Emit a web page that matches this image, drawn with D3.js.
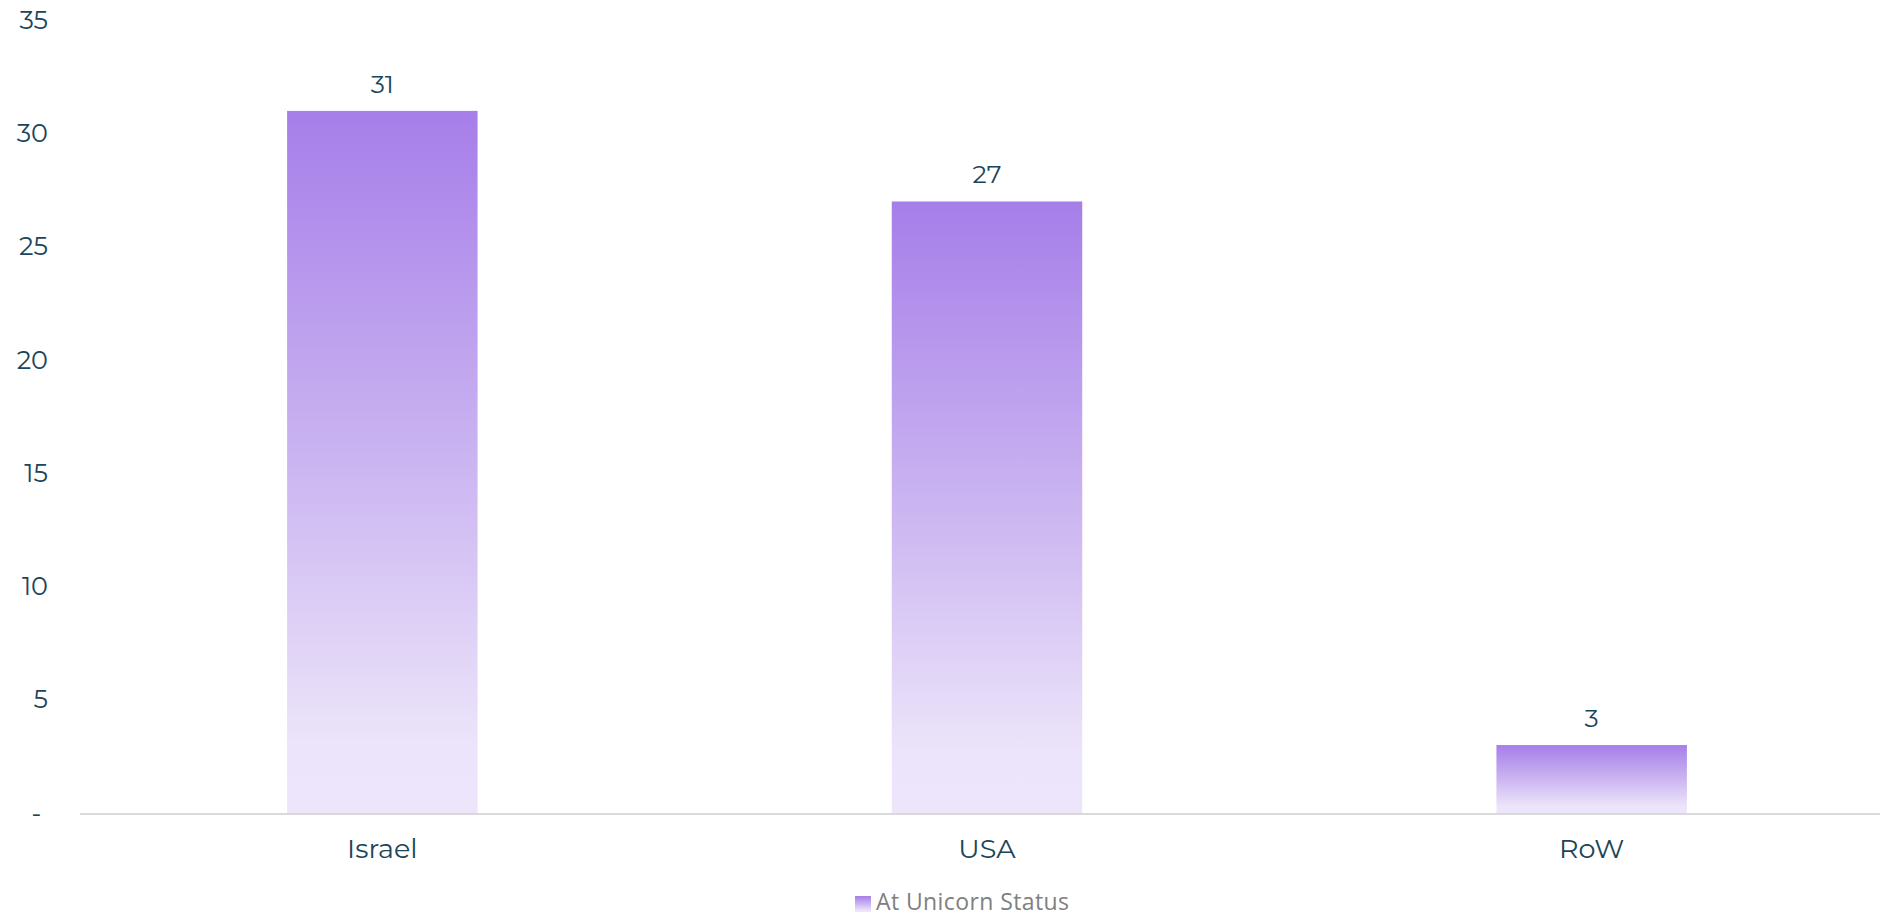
<!DOCTYPE html>
<html>
<head>
<meta charset="utf-8">
<script src="https://cdn.jsdelivr.net/npm/d3@7"></script>
<style>
  html, body { margin: 0; padding: 0; background: #ffffff; }
  svg { display: block; }
  text { font-family: "Montserrat", "Noto Sans", "Open Sans", sans-serif; }
</style>
</head>
<body>
<svg id="chart" width="1880" height="916"></svg>
<script>
const categories = ["Israel", "USA", "RoW"];
const values = [31, 27, 3];
const seriesName = "At Unicorn Status";
const yTicks = [0, 5, 10, 15, 20, 25, 30, 35];
const yTickLabels = ["- ", "5", "10", "15", "20", "25", "30", "35"];

const W = 1880, H = 916;
const baseline = 813, topY = 20.3;
const svg = d3.select("#chart");

const defs = svg.append("defs");
const grad = defs.append("linearGradient")
  .attr("id", "barGrad").attr("x1", 0).attr("y1", 0).attr("x2", 0).attr("y2", 1);
grad.append("stop").attr("offset", "0%").attr("stop-color", "#a67ee9");
grad.append("stop").attr("offset", "50%").attr("stop-color", "#cbb5f1");
grad.append("stop").attr("offset", "90%").attr("stop-color", "#ece4fa");
grad.append("stop").attr("offset", "100%").attr("stop-color", "#ede5fa");

const x = d3.scaleBand().domain(categories).range([80, 1894]).paddingInner(0.685).paddingOuter(0.3425);
const y = d3.scaleLinear().domain([0, 35]).range([baseline, topY]);

// y axis labels
const yAxis = d3.axisLeft(y).tickValues(yTicks).tickSize(0).tickPadding(0)
  .tickFormat((d, i) => yTickLabels[i]);
const yg = svg.append("g").attr("transform", "translate(48,0)").call(yAxis);
yg.select(".domain").remove();
yg.selectAll("text")
  .attr("fill", "#1b4558")
  .style("font-size", "25.5px")
  .style("white-space", "pre")
  .attr("font-family", null);

// bars
const data = categories.map((c, i) => ({ c, v: values[i] }));
svg.append("g").selectAll("rect").data(data).join("rect")
  .attr("x", d => x(d.c))
  .attr("y", d => y(d.v))
  .attr("width", x.bandwidth())
  .attr("height", d => baseline - y(d.v))
  .attr("fill", "url(#barGrad)");

// value labels
svg.append("g").selectAll("text").data(data).join("text")
  .attr("x", d => x(d.c) + x.bandwidth() / 2)
  .attr("y", d => y(d.v) - 18)
  .attr("text-anchor", "middle")
  .attr("fill", "#1b4558")
  .style("font-size", "25px")
  .text(d => d.v);

// x axis
const xAxis = d3.axisBottom(x).tickSize(0).tickPadding(0);
const xg = svg.append("g").attr("transform", `translate(0,${baseline})`).call(xAxis);
xg.select(".domain").remove();
svg.append("line").attr("x1", 80).attr("x2", W).attr("y1", baseline + 1).attr("y2", baseline + 1)
  .attr("stroke", "#d9d9d9").attr("stroke-width", 2);
xg.selectAll("text")
  .attr("y", 45)
  .attr("dy", null)
  .attr("fill", "#1b4558")
  .attr("font-family", null)
  .style("font-size", "27px");

// legend
const lg = svg.append("g");
lg.append("rect").attr("x", 855).attr("y", 896).attr("width", 16).attr("height", 16).attr("fill", "url(#barGrad)");
lg.append("text").attr("x", 876).attr("y", 910)
  .attr("fill", "#808080")
  .style("font-family", "'Open Sans', 'Noto Sans', sans-serif")
  .style("font-size", "23px")
  .style("letter-spacing", "0.4px")
  .text(seriesName);
</script>
</body>
</html>
